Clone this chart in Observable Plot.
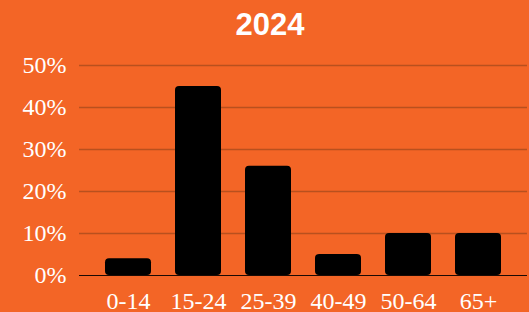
<!DOCTYPE html>
<html>
<head>
<meta charset="utf-8">
<script src="https://cdn.jsdelivr.net/npm/d3@7"></script>
<script src="https://cdn.jsdelivr.net/npm/@observablehq/plot@0.6"></script>
<style>
  html, body { margin: 0; padding: 0; background: #F36526; width: 529px; height: 312px; overflow: hidden; }
  #wrap { position: relative; width: 529px; height: 312px; }
  #title { position: absolute; top: 9px; left: 0; width: 540px; text-align: center; font-family: "Liberation Sans", Arial, sans-serif; font-weight: bold; font-size: 31px; line-height: 1; color: white; }
  #chart { position: absolute; top: 50px; left: 0; }
</style>
</head>
<body>
<div id="wrap">
  <div id="title">2024</div>
  <div id="chart"></div>
</div>
<script>
const ageGroups = ["0-14", "15-24", "25-39", "40-49", "50-64", "65+"];
const shares = [4, 45, 26, 5, 10, 10];
const yTicks = [0, 10, 20, 30, 40, 50];

const data = ageGroups.map((g, i) => ({group: g, share: shares[i]}));

const chart = Plot.plot({
  width: 529,
  height: 262,
  marginLeft: 79,
  marginRight: 2,
  marginTop: 15,
  marginBottom: 37,
  style: {
    background: "#F36526",
    color: "white",
    fontFamily: "'Liberation Serif', 'Times New Roman', serif",
    fontSize: "24px",
    overflow: "visible"
  },
  x: {domain: ageGroups, padding: 0.35, label: null, tickSize: 0, tickPadding: 16},
  y: {domain: [0, 50], ticks: yTicks, tickFormat: d => d + "%", label: null, tickSize: 0, tickPadding: 13},
  marks: [
    Plot.ruleY(yTicks.filter(d => d > 0), {stroke: "#B8501E", strokeWidth: 1.5}),
    Plot.barY(data, {x: "group", y: "share", fill: "black", rx: 4}),
    Plot.ruleY([0], {stroke: "#1a0a04", strokeWidth: 1.2})
  ]
});
document.getElementById("chart").appendChild(chart);
</script>
</body>
</html>
